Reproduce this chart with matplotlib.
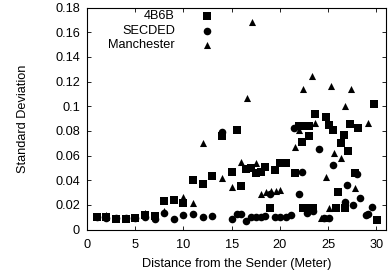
import matplotlib
matplotlib.use("Agg")
import matplotlib.pyplot as plt

plt.rcParams['font.family'] = ['Liberation Sans', 'DejaVu Sans']

# 4B6B (squares)
x_4b6b = [1, 2, 3, 4, 5, 6, 7, 8, 9, 10, 11, 12, 13, 14, 15, 15.5, 16, 16.5, 17, 17.5,
          18, 18.5, 19, 19.5, 20, 20.6, 21.6, 22, 22.3, 22.5, 23, 23.05, 22.4, 22.9, 23.4,
          23.6, 24.8, 25.05, 25.55, 25.8, 26.05, 26.35, 26.6, 26.8, 27.05, 27.3, 27.8,
          28.1, 29.8, 30.1]
y_4b6b = [0.0104, 0.0099, 0.0088, 0.0088, 0.0096, 0.0115, 0.011, 0.023, 0.024, 0.0217,
          0.040, 0.037, 0.043, 0.076, 0.047, 0.081, 0.0355, 0.049, 0.0496, 0.046,
          0.047, 0.051, 0.0172, 0.0483, 0.054, 0.054, 0.046, 0.084, 0.071, 0.084, 0.084,
          0.0755, 0.0172, 0.0172, 0.0172, 0.094, 0.0915, 0.0848, 0.0807, 0.0172, 0.0307,
          0.0704, 0.0763, 0.0172, 0.0639, 0.0853, 0.046, 0.0826, 0.1015, 0.0077]

# SECDED (circles)
x_secded = [1, 2, 3, 4, 5, 6, 7, 8, 9, 10, 11, 12, 13, 14, 15, 15.5, 16, 16.5, 17, 17.5,
            18, 18.5, 19, 19.5, 20, 20.6, 21.1, 21.5, 22, 22.3, 22.8, 23.4, 24.05, 24.6,
            25.1, 25.55, 26.8, 27.0, 27.6, 28.0, 28.3, 28.9, 29.1, 29.6]
y_secded = [0.0100, 0.0095, 0.009, 0.009, 0.0095, 0.0105, 0.0085, 0.013, 0.0083, 0.0118,
            0.0128, 0.0104, 0.011, 0.079, 0.0085, 0.0123, 0.0123, 0.0069, 0.0099, 0.0099,
            0.0099, 0.0112, 0.0288, 0.0104, 0.0104, 0.0099, 0.0118, 0.082, 0.0288, 0.047,
            0.0136, 0.0153, 0.0655, 0.009, 0.0095, 0.0526, 0.0224, 0.036, 0.0199, 0.0453,
            0.0255, 0.012, 0.0125, 0.018]

# Manchester (triangles)
x_manch = [1, 2, 3, 4, 5, 6, 7, 8, 10, 11, 12, 14, 15, 16, 16.55, 17.06, 17.5, 18, 18.55,
           19.05, 19.55, 20.05, 21.55, 22.0, 22.4, 23.3, 23.6, 24.3, 24.8, 24.8, 25.1,
           25.3, 25.6, 26.35, 26.8, 27.4, 27.8, 29.1]
y_manch = [0.011, 0.012, 0.0095, 0.0095, 0.0105, 0.013, 0.0115, 0.015, 0.0266, 0.0212,
           0.070, 0.0415, 0.0342, 0.0545, 0.1064, 0.168, 0.0542, 0.0285, 0.0307,
           0.031, 0.0312, 0.032, 0.0665, 0.0807, 0.1137, 0.1245, 0.0861, 0.009, 0.0428,
           0.009, 0.0172, 0.1166, 0.0618, 0.0582, 0.1002, 0.1137, 0.0334, 0.0866]

labels = ["4B6B", "SECDED", "Manchester"]
yticks = [0, 0.02, 0.04, 0.06, 0.08, 0.1, 0.12, 0.14, 0.16, 0.18]
ytick_labels = ["0", "0.02", "0.04", "0.06", "0.08", "0.1", "0.12", "0.14", "0.16", "0.18"]
xticks = [0, 5, 10, 15, 20, 25, 30]

fig = plt.figure(figsize=(3.9, 2.76), dpi=100)
ax = fig.add_axes([87/390, 1 - 229.5/276, 299/390, 222/276])

fs = 9.2
sq, ci, tr = 36, 30, 26
ax.scatter(x_4b6b, y_4b6b, marker='s', s=sq, c='black', linewidths=0)
ax.scatter(x_secded, y_secded, marker='o', s=ci, c='black', linewidths=0)
ax.scatter(x_manch, y_manch, marker='^', s=tr, c='black', linewidths=0)

ax.set_xlim(0, 31)
ax.set_ylim(0, 0.18)
ax.set_xticks(xticks)
ax.set_xticklabels([str(t) for t in xticks])
ax.set_yticks(yticks)
ax.set_yticklabels(ytick_labels)
ax.tick_params(direction='in', top=True, right=True, length=3, width=0.6,
               labelsize=fs)
ax.tick_params(axis='x', pad=7)
ax.tick_params(axis='y', pad=5)
for sp in ax.spines.values():
    sp.set_linewidth(0.8)

ax.set_xlabel("Distance from the Sender (Meter)", fontsize=fs)
ax.set_ylabel("Standard Deviation", fontsize=fs)
ax.xaxis.set_label_coords(0.5, -0.128)
ax.yaxis.set_label_coords(-0.195, 0.5)

# legend (gnuplot style: right-aligned text, marker to the right)
markers = [('s', sq), ('o', ci), ('^', tr)]
rows = [0.962, 0.894, 0.831]
for lab, (m, s), ry in zip(labels, markers, rows):
    ax.text(0.294, ry, lab, ha='right', va='center', fontsize=fs, transform=ax.transAxes)
    ax.scatter([0.401], [ry], marker=m, s=s, c='black', linewidths=0,
               transform=ax.transAxes, clip_on=False)

fig.savefig("out.png", dpi=100)
